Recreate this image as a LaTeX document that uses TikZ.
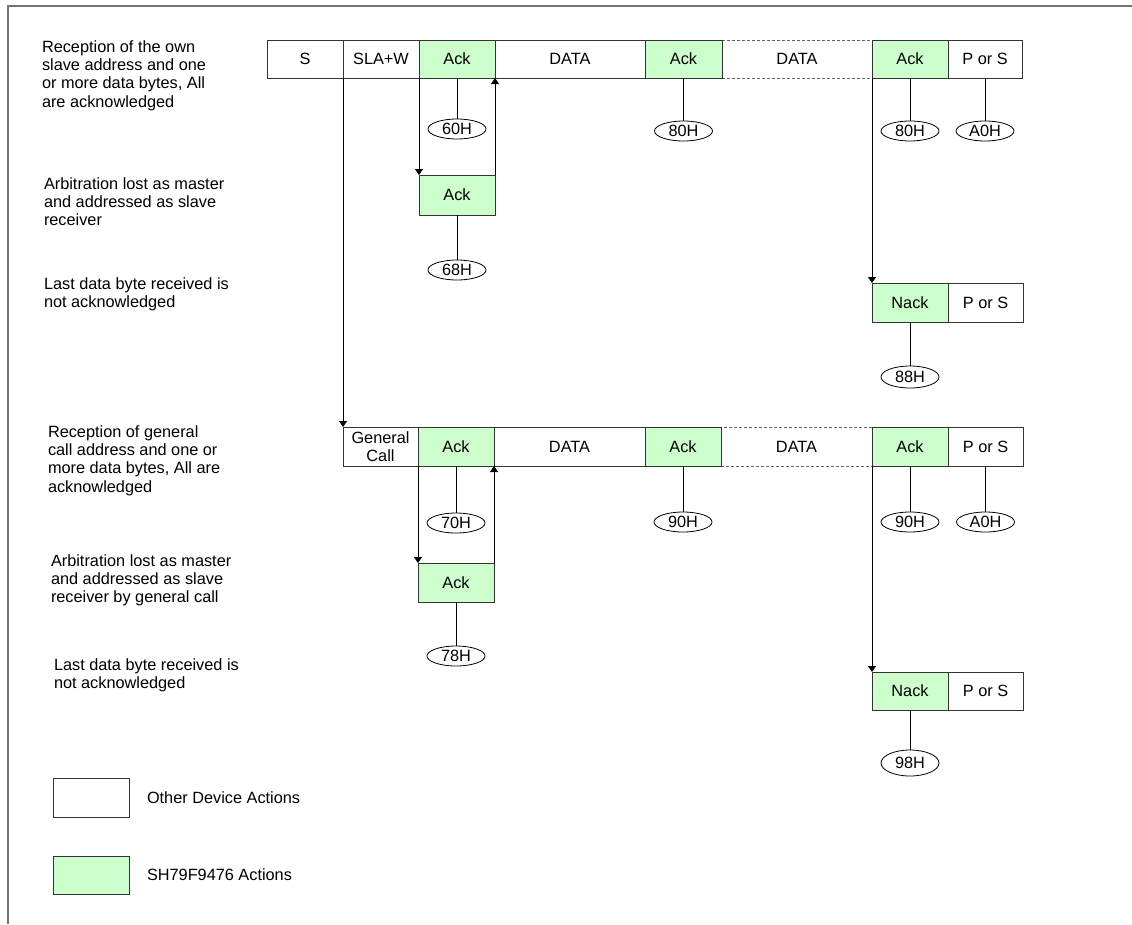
\documentclass[tikz,border=0pt]{standalone}
\usepackage{fontspec}
\setmainfont{Liberation Sans}
\usetikzlibrary{arrows.meta,shapes.geometric}
\definecolor{ackgreen}{HTML}{CCFFCC}
\definecolor{edge}{HTML}{333333}
\begin{document}
\begin{tikzpicture}[x=1pt,y=-1pt,
  every node/.style={font=\fontsize{16.3}{18.3}\selectfont, inner sep=0pt, outer sep=0pt},
  wbox/.style={draw=edge, line width=0.8pt, fill=white, minimum height=38pt, align=center},
  gbox/.style={wbox, fill=ackgreen},
  dbox/.style={wbox, dashed, dash pattern=on 3pt off 2pt, draw=black!60},
  code/.style={draw=black, line width=0.8pt, ellipse, minimum width=58pt, minimum height=20pt},
  conn/.style={draw=black, line width=0.8pt},
  arr/.style={conn, -{Triangle[width=8pt,length=6pt]}},
  desc/.style={anchor=base west, align=left}
]
\useasboundingbox (0,0) rectangle (1132,924);
% frame
\draw[line width=1.5pt, draw=black!55] (8,924) -- (8,6) -- (1132,6);

% left descriptions (anchor = baseline of the last line)
\node[desc] (t1) at (42,107) {Reception of the own\\slave address and one\\or more data bytes, All\\are acknowledged};
\node[desc] (t2) at (44,225.6) {Arbitration lost as master\\and addressed as slave\\receiver};
\node[desc] (t3) at (44,307.3) {Last data byte received is\\not acknowledged};
\node[desc] (t4) at (48,492) {Reception of general\\call address and one or\\more data bytes, All are\\acknowledged};
\node[desc] (t5) at (51,602.6) {Arbitration lost as master\\and addressed as slave\\receiver by general call};
\node[desc] (t6) at (54,688.3) {Last data byte received is\\not acknowledged};

% ---------- row 1 ----------
\node[dbox, minimum width=150pt] (r1d2) at (797,59) {DATA};
\node[wbox, minimum width=76pt] (r1s) at (305,59) {S};
\node[wbox, minimum width=76pt] (r1sla) at (381,59) {SLA+W};
\node[gbox, minimum width=76pt] (r1a1) at (457,59) {Ack};
\node[wbox, minimum width=150pt] (r1d1) at (570,59) {DATA};
\node[gbox, minimum width=77pt] (r1a2) at (683.5,59) {Ack};
\node[gbox, minimum width=76pt] (r1a3) at (910,59) {Ack};
\node[wbox, minimum width=74pt] (r1p) at (985,59) {P or S};

\node[code] (c60) at (457,129) {60H};
\node[code] (c80a) at (683.5,131) {80H};
\node[code] (c80b) at (910,131) {80H};
\node[code] (ca0a) at (985,131) {A0H};
\draw[conn] (r1a1.south) -- (c60.north);
\draw[conn] (r1a2.south) -- (c80a.north);
\draw[conn] (r1a3.south) -- (c80b.north);
\draw[conn] (r1p.south) -- (ca0a.north);

\node[gbox, minimum width=76pt, minimum height=40pt] (r1b) at (457,195) {Ack};
\node[code] (c68) at (457,270) {68H};
\draw[conn] (r1b.south) -- (c68.north);
\draw[arr] (r1a1.south west) -- (r1b.north west);
\draw[arr] (r1b.north east) -- (r1a1.south east);

\node[gbox, minimum width=76pt, minimum height=39pt] (r1n) at (910,302.5) {Nack};
\node[wbox, minimum width=75pt, minimum height=39pt] (r1np) at (985.5,302.5) {P or S};
\node[code, minimum height=22pt] (c88) at (910,377) {88H};
\draw[conn] (r1n.south) -- (c88.north);
\draw[arr] (r1a3.south west) -- (r1n.north west);

% ---------- row 2 ----------
\node[dbox, minimum width=151pt, minimum height=39pt] (r2d2) at (796.5,446.5) {DATA};
\node[wbox, minimum width=75pt, minimum height=39pt] (r2gc) at (380.5,446.5) {General\\Call};
\node[gbox, minimum width=76pt, minimum height=39pt] (r2a1) at (456,446.5) {Ack};
\node[wbox, minimum width=151pt, minimum height=39pt] (r2d1) at (569.5,446.5) {DATA};
\node[gbox, minimum width=76pt, minimum height=39pt] (r2a2) at (683,446.5) {Ack};
\node[gbox, minimum width=76pt, minimum height=39pt] (r2a3) at (910,446.5) {Ack};
\node[wbox, minimum width=75pt, minimum height=39pt] (r2p) at (985.5,446.5) {P or S};

\draw[arr] (r1sla.south west) -- (r2gc.north west);

\node[code] (c70) at (456,523) {70H};
\node[code] (c90a) at (683,522) {90H};
\node[code] (c90b) at (910,522) {90H};
\node[code] (ca0b) at (985.5,522) {A0H};
\draw[conn] (r2a1.south) -- (c70.north);
\draw[conn] (r2a2.south) -- (c90a.north);
\draw[conn] (r2a3.south) -- (c90b.north);
\draw[conn] (r2p.south) -- (ca0b.north);

\node[gbox, minimum width=76pt, minimum height=39pt] (r2b) at (456,582.5) {Ack};
\node[code] (c78) at (456,656) {78H};
\draw[conn] (r2b.south) -- (c78.north);
\draw[arr] (r2a1.south west) -- (r2b.north west);
\draw[arr] (r2b.north east) -- (r2a1.south east);

\node[gbox, minimum width=76pt, minimum height=38pt] (r2n) at (910,691) {Nack};
\node[wbox, minimum width=75pt, minimum height=38pt] (r2np) at (985.5,691) {P or S};
\node[code, minimum height=26pt] (c98) at (910,763) {98H};
\draw[conn] (r2n.south) -- (c98.north);
\draw[arr] (r2a3.south west) -- (r2n.north west);

% ---------- legend ----------
\node[wbox, minimum width=76pt, minimum height=39pt] (lg1) at (91,797.5) {};
\node[anchor=west] (lt1) at (147,797.5) {Other Device Actions};
\node[gbox, minimum width=76pt, minimum height=38pt] (lg2) at (91,875) {};
\node[anchor=west] (lt2) at (147,875) {SH79F9476 Actions};
\end{tikzpicture}
\end{document}
